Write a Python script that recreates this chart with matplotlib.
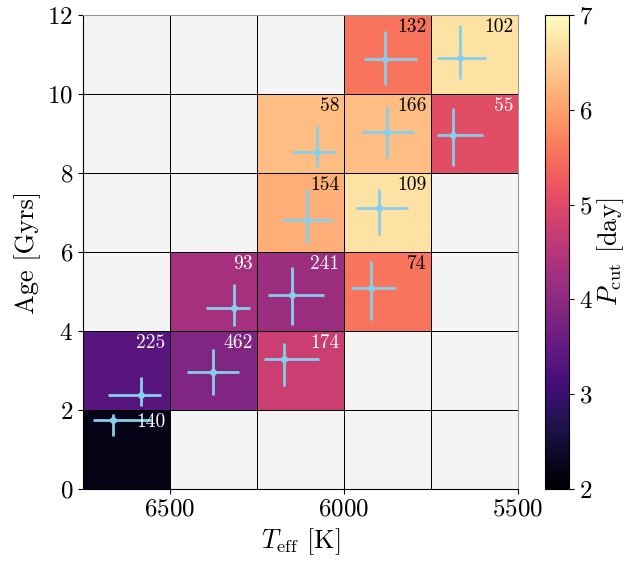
import numpy as np
import matplotlib
matplotlib.use("Agg")
import matplotlib.pyplot as plt

plt.rcParams["font.family"] = "serif"
plt.rcParams["font.serif"] = ["cmr10"]
plt.rcParams["mathtext.fontset"] = "cm"
plt.rcParams["axes.formatter.use_mathtext"] = True

# bin edges
teff_edges = np.array([6750, 6500, 6250, 6000, 5750, 5500])
age_edges = np.array([0, 2, 4, 6, 8, 10, 12])

# P_cut per bin (rows = age bins from 0-2 upward, cols = Teff bins from 6750 down)
nan = np.nan
pcut = np.array([
    [2.2, nan, nan, nan, nan],
    [3.35, 3.85, 4.75, nan, nan],
    [nan, 4.3, 4.2, 5.55, nan],
    [nan, nan, 6.15, 6.7, nan],
    [nan, nan, 6.3, 6.3, 5.05],
    [nan, nan, nan, 5.55, 6.7],
])
counts = np.array([
    [140, 0, 0, 0, 0],
    [225, 462, 174, 0, 0],
    [0, 93, 241, 74, 0],
    [0, 0, 154, 109, 0],
    [0, 0, 58, 166, 55],
    [0, 0, 0, 132, 102],
])

# median Teff / age of stars in each bin with asymmetric errors
star_teff = [6663, 6583, 6375, 6171, 6316, 6148, 5923, 6107, 5899, 6077, 5877, 5686, 5882, 5665]
teff_lo = [110, 57, 75, 100, 47, 92, 73, 72, 83, 55, 79, 85, 91, 73]
teff_hi = [59, 94, 77, 59, 81, 70, 57, 72, 65, 73, 72, 45, 61, 67]
star_age = [1.75, 2.38, 2.96, 3.28, 4.57, 4.92, 5.10, 6.81, 7.11, 8.52, 9.04, 8.97, 10.89, 10.90]
age_lo = [0.40, 0.29, 0.58, 0.67, 0.45, 0.76, 0.81, 0.59, 0.69, 0.36, 0.66, 0.79, 0.66, 0.53]
age_hi = [0.15, 0.45, 0.58, 0.41, 0.61, 0.69, 0.68, 0.78, 0.49, 0.67, 0.64, 0.68, 0.71, 0.84]

fig = plt.figure(figsize=(6.27, 5.66), dpi=100)
ax = fig.add_axes([0.132, 0.136, 0.694, 0.8375])
cax = fig.add_axes([545 / 627, 0.136, 24 / 627, 0.8375])

cmap = plt.get_cmap("magma").copy()
cmap.set_bad("#f4f4f4")
mesh = ax.pcolormesh(teff_edges, age_edges, np.ma.masked_invalid(pcut), cmap=cmap,
                     vmin=2, vmax=7, edgecolors="k", linewidth=0.7)

ax.errorbar(star_teff, star_age, xerr=[teff_lo, teff_hi], yerr=[age_lo, age_hi],
            fmt="o", color="skyblue", ms=4, elinewidth=2, capsize=0, zorder=3)

for i in range(len(age_edges) - 1):
    for j in range(len(teff_edges) - 1):
        if counts[i, j] == 0:
            continue
        col = "white" if pcut[i, j] < 5.3 else "black"
        ax.annotate(str(counts[i, j]), (teff_edges[j + 1], age_edges[i + 1]),
                    xytext=(-3, -2), textcoords="offset points",
                    ha="right", va="top", fontsize=14, color=col, zorder=4)

ax.set_xlim(6750, 5500)
ax.set_ylim(0, 12)
ax.set_xticks([6500, 6000, 5500])
ax.set_yticks(np.arange(0, 13, 2))
ax.tick_params(labelsize=18)
ax.set_xlabel(r"$T_{\rm eff}$ [K]", fontsize=19)
ax.set_ylabel("Age [Gyrs]", fontsize=19)
for s in ["top", "right"]:
    ax.spines[s].set_color("0.6")

cb = fig.colorbar(mesh, cax=cax)
cb.set_ticks([2, 3, 4, 5, 6, 7])
cb.ax.tick_params(labelsize=18)
cb.set_label(r"$P_{\rm cut}$ [day]", fontsize=19, labelpad=2)

fig.savefig("out.png", dpi=100)
